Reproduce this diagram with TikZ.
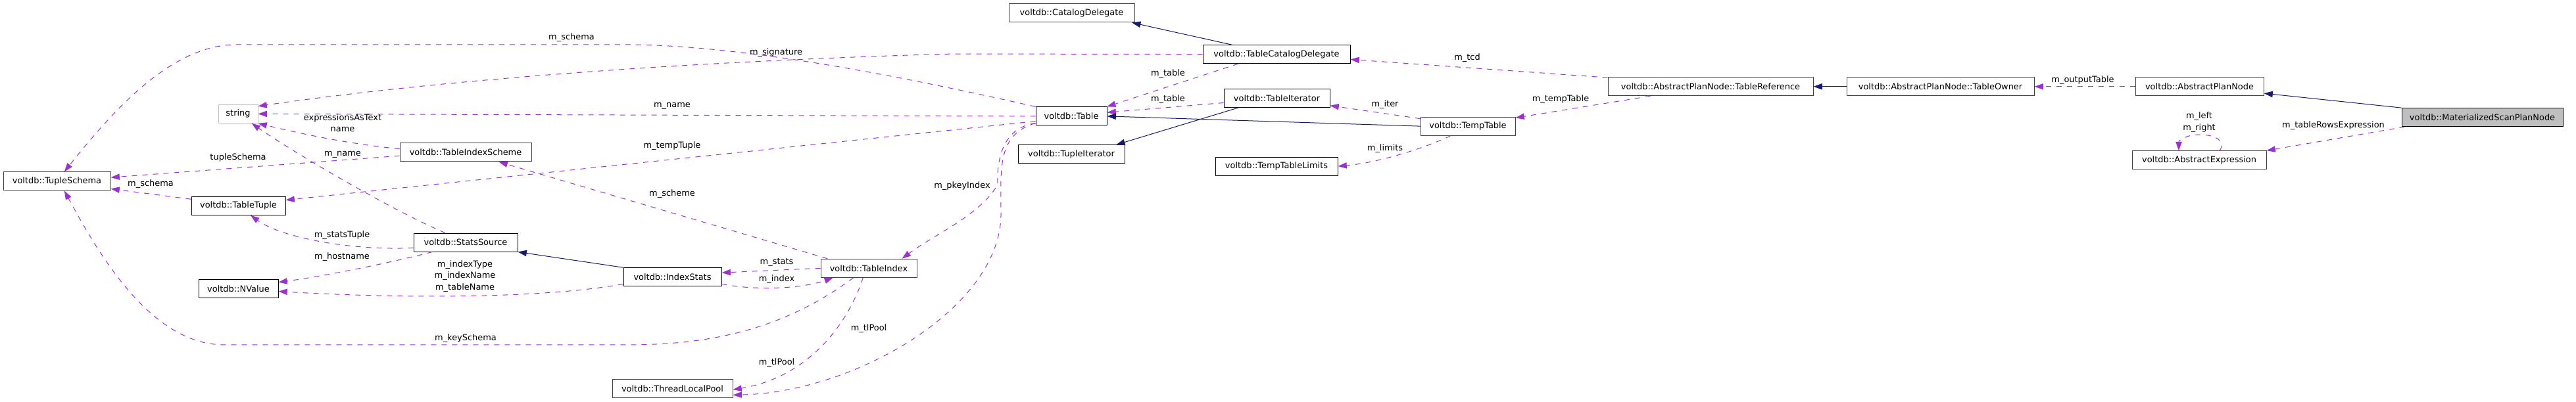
\documentclass[tikz,border=0pt]{standalone}
\usepackage{fontspec}
\setmainfont{DejaVu Sans}
\usetikzlibrary{arrows.meta}
\definecolor{edgeClr}{HTML}{9A32CD}
\definecolor{inhClr}{HTML}{191970}
\definecolor{boxClr}{HTML}{404040}
\definecolor{fillClr}{HTML}{BFBFBF}

\begin{document}
\begin{tikzpicture}[x=0.75pt, y=-0.8786pt,
  font=\fontsize{9.7}{13}\selectfont,
  cls/.style={draw=black, line width=0.75pt, inner sep=0pt, minimum height=21pt},
  dcls/.style={cls, draw=boxClr},
  cw/.style={minimum width=#1*0.75pt},
  member/.style={draw=edgeClr, line width=0.75pt, dash pattern=on 6pt off 6pt, -{Triangle[length=10pt,width=7pt]}},
  inh/.style={draw=inhClr, line width=0.75pt, -{Triangle[length=10pt,width=7pt]}},
  lbl/.style={inner sep=0pt, align=center}]
  \useasboundingbox (0,0) rectangle (3917,522.4);

  % classes
  \node[dcls, cw=163] (tschema) at (86.5,235.5) {voltdb::TupleSchema};
  \node[cls, draw=fillClr, cw=60] (str) at (362,148) {string};
  \node[cls, cw=143] (ttuple) at (362.5,267.5) {voltdb::TableTuple};
  \node[cls, cw=121] (nval) at (362.5,375) {voltdb::NValue};
  \node[dcls, cw=200] (tischeme) at (708,198) {voltdb::TableIndexScheme};
  \node[cls, cw=158] (stsrc) at (708,315) {voltdb::StatsSource};
  \node[cls, cw=149] (istats) at (1022.5,360) {voltdb::IndexStats};
  \node[dcls, cw=183] (tlpool) at (1022.5,505) {voltdb::ThreadLocalPool};
  \node[dcls, cw=146] (tidx) at (1321,348.5) {voltdb::TableIndex};
  \node[dcls, cw=191] (catdel) at (1629.5,17) {voltdb::CatalogDelegate};
  \node[cls, cw=224] (tcatdel) at (1941,70.5) {voltdb::TableCatalogDelegate};
  \node[cls, cw=108] (tbl) at (1629,151) {voltdb::Table};
  \node[cls, cw=162] (tupit) at (1629,200.5) {voltdb::TupleIterator};
  \node[cls, cw=161] (tblit) at (1941.5,127.5) {voltdb::TableIterator};
  \node[cls, cw=186] (ttlimits) at (1941,216) {voltdb::TempTableLimits};
  \node[dcls, cw=144] (ttbl) at (2232,164) {voltdb::TempTable};
  \node[dcls, cw=312] (tref) at (2601,112.5) {voltdb::AbstractPlanNode::TableReference};
  \node[dcls, cw=285] (towner) at (2950.5,112.5) {voltdb::AbstractPlanNode::TableOwner};
  \node[dcls, cw=195] (apnode) at (3344.5,112.5) {voltdb::AbstractPlanNode};
  \node[dcls, cw=204] (aexpr) at (3344,208) {voltdb::AbstractExpression};
  \node[cls, fill=fillClr, cw=245] (mspn) at (3774.5,152.5) {voltdb::MaterializedScanPlanNode};

  % members
  \draw[member] (tbl.north west) .. controls (1400,105) and (1150,60) .. (960,58) -- (360,58) .. controls (260,58) and (172,144) .. (tschema.52);
  \draw[member] (tcatdel.west) -- (1450,70) .. controls (1100,78) and (700,100) .. (str.21);
  \draw[member] (tbl.west) -- (str.east);
  \draw[member] (tischeme.177) .. controls (520,186) and (450,172) .. (str.south east);
  \draw[member] (tischeme.183.5) -- (tschema.4.5);
  \draw[member] (stsrc.155.6) .. controls (600,275) and (450,200) .. (str.325);
  \draw[member] (tbl.188.6) -- (ttuple.7);
  \draw[member] (ttuple.172) -- (tschema.-8.6);
  \draw[member] (stsrc.186.8) .. controls (540,326) and (430,310) .. (ttuple.322);
  \draw[member] (stsrc.196.3) .. controls (600,340) and (500,358) .. (nval.9.9);
  \draw[member] (istats.188.1) .. controls (850,385) and (650,390) .. (nval.-4.4);
  \draw[member] (tidx.167.9) -- (tischeme.-16);
  \draw[member] (tidx.west) -- (istats.5.4);
  \draw[member] (istats.-8.9) .. controls (1150,378) and (1220,375) .. (tidx.195.7);
  \draw[member] (tidx.212.7) .. controls (1220,410) and (1120,448) .. (960,448) -- (340,448) .. controls (230,448) and (150,330) .. (tschema.-52);
  \draw[member] (tidx.239.3) .. controls (1290,420) and (1230,490) .. (tlpool.-1);
  \draw[member] (tbl.191.6) .. controls (1530,165) and (1515,200) .. (1517,240) .. controls (1490,280) and (1420,305) .. (tidx.16.3);
  \draw[member] (tbl.191.6) .. controls (1515,175) and (1522,220) .. (1522,280) .. controls (1520,400) and (1300,510) .. (tlpool.-6.6);
  \draw[member] (tcatdel.194.8) -- (tbl.15.4);
  \draw[member] (tblit.185.4) -- (tbl.6.2);
  \draw[member] (ttbl.171.7) -- (tblit.-8.7);
  \draw[member] (ttbl.209.4) .. controls (2160,195) and (2090,212) .. (ttlimits.east);
  \draw[member] (tref.175.5) -- (tcatdel.-4.5);
  \draw[member] (tref.189.1) -- (ttbl.10.1);
  \draw[member] (apnode.west) -- (towner.east);
  \draw[member] (mspn.187.7) -- (aexpr.8.3);
  \draw[member] (aexpr.25.9) .. controls (3385,184) and (3370,175) .. (3344,175) .. controls (3325,175) and (3313,182) .. (aexpr.155.6);

  % inheritance
  \draw[inh] (istats.north west) -- (stsrc.south east);
  \draw[inh] (tcatdel.168.1) -- (catdel.-9.7);
  \draw[inh] (ttbl.west) -- (tbl.east);
  \draw[inh] (tblit.194.1) -- (tupit.12.9);
  \draw[inh] (towner.west) -- (tref.east);
  \draw[inh] (mspn.north west) -- (apnode.-6.5);

  % labels
  \node[lbl] (lschema) at (869,49) {m\_schema};
  \node[lbl] (lsignature) at (1180,68) {m\_signature};
  \node[lbl] (lname) at (1022,138) {m\_name};
  \node[lbl] (lexpr) at (521,159.5) {expressionsAsText\\name};
  \node[lbl] (ltupschema) at (362,205) {tupleSchema};
  \node[lbl] (lsname) at (521,201) {m\_name};
  \node[lbl] (ltemptuple) at (1022,190) {m\_tempTuple};
  \node[lbl] (lttschema) at (229,239) {m\_schema};
  \node[lbl] (lstatstuple) at (520,306) {m\_statsTuple};
  \node[lbl] (lhostname) at (520,334) {m\_hostname};
  \node[lbl] (lindexnames) at (707,359) {m\_indexType\\m\_indexName\\m\_tableName};
  \node[lbl] (lscheme) at (1022,252) {m\_scheme};
  \node[lbl] (lstats) at (1181,341) {m\_stats};
  \node[lbl] (lindex) at (1181,363) {m\_index};
  \node[lbl] (lkeyschema) at (708,440) {m\_keySchema};
  \node[lbl] (ltlpoola) at (1321,427) {m\_tlPool};
  \node[lbl] (ltlpoolb) at (1181,471) {m\_tlPool};
  \node[lbl] (lpkey) at (1463,242) {m\_pkeyIndex};
  \node[lbl] (ltablea) at (1776,96) {m\_table};
  \node[lbl] (ltableb) at (1776,129) {m\_table};
  \node[lbl] (liter) at (2106,136) {m\_iter};
  \node[lbl] (llimits) at (2106,193) {m\_limits};
  \node[lbl] (ltcd) at (2231,75) {m\_tcd};
  \node[lbl] (ltemptable) at (2373,129) {m\_tempTable};
  \node[lbl] (loutput) at (3167,104) {m\_outputTable};
  \node[lbl] (lrows) at (3548,163) {m\_tableRowsExpression};
  \node[lbl] (lleftright) at (3344,159) {m\_left\\m\_right};
\end{tikzpicture}
\end{document}
